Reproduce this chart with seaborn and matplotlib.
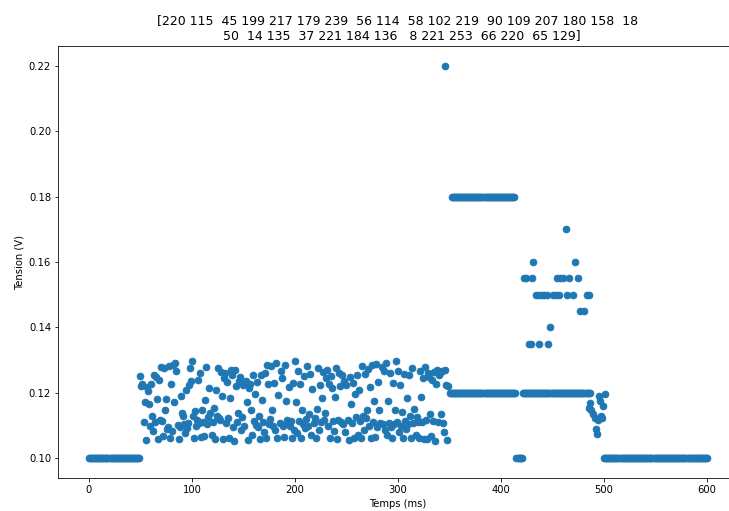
import numpy as np
import pandas as pd
import matplotlib
matplotlib.use("Agg")
import matplotlib.pyplot as plt
import seaborn as sns

# --- data ---
title_text = ("[220 115  45 199 217 179 239  56 114  58 102 219  90 109 207 180 158  18\n"
              "  50  14 135  37 221 184 136   8 221 253  66 220  65 129]")

# baseline before the burst (ms, V)
t_start = list(range(0, 50))
v_start = [0.10] * len(t_start)

# noisy burst, one sample per ms starting at 50 ms (values in 1e-4 V)
burst_t0 = 50
burst_e4 = [
    1252, 1222, 1228, 1110, 1172, 1055, 1218, 1205, 1165, 1098, 1228, 1128, 1085, 1255, 1112, 1248, 1182, 1060, 1240, 1118, 1280, 1115, 1068, 1275, 1148, 1182, 1090, 1095, 1282, 1062,
    1228, 1085, 1285, 1172, 1292, 1268, 1102, 1058, 1095, 1192, 1140, 1130, 1105, 1078, 1208, 1092, 1108, 1225, 1275, 1235, 1298, 1128, 1062, 1145, 1098, 1118, 1240, 1108, 1262, 1065,
    1148, 1112, 1068, 1178, 1280, 1105, 1125, 1215, 1138, 1070, 1112, 1155, 1058, 1208, 1128, 1275, 1122, 1118, 1265, 1190, 1058, 1245, 1262, 1108, 1232, 1122, 1062, 1185, 1270, 1255,
    1095, 1052, 1270, 1222, 1112, 1138, 1235, 1250, 1088, 1125, 1225, 1100, 1235, 1172, 1055, 1215, 1228, 1148, 1070, 1255, 1115, 1198, 1102, 1232, 1095, 1130, 1058, 1255, 1178, 1110,
    1082, 1260, 1062, 1285, 1228, 1105, 1120, 1282, 1148, 1098, 1230, 1088, 1290, 1062, 1195, 1108, 1268, 1245, 1100, 1065, 1285, 1175, 1118, 1105, 1218, 1098, 1115, 1062, 1230, 1088,
    1298, 1172, 1078, 1268, 1115, 1228, 1062, 1148, 1105, 1252, 1092, 1120, 1282, 1098, 1135, 1258, 1070, 1212, 1108, 1122, 1062, 1150, 1275, 1088, 1225, 1112, 1185, 1265, 1118, 1138,
    1245, 1270, 1100, 1228, 1062, 1252, 1215, 1115, 1085, 1188, 1275, 1058, 1118, 1262, 1222, 1112, 1255, 1105, 1235, 1080, 1225, 1118, 1055, 1248, 1165, 1108, 1230, 1062, 1198, 1125,
    1255, 1070, 1208, 1115, 1062, 1282, 1130, 1088, 1258, 1122, 1148, 1272, 1100, 1218, 1062, 1285, 1112, 1175, 1065, 1288, 1095, 1232, 1148, 1108, 1278, 1105, 1268, 1088, 1292, 1070,
    1175, 1108, 1262, 1095, 1062, 1230, 1105, 1148, 1298, 1112, 1268, 1082, 1225, 1098, 1142, 1062, 1258, 1115, 1090, 1185, 1105, 1255, 1128, 1062, 1275, 1108, 1150, 1070, 1125, 1110,
    1062, 1268, 1188, 1112, 1245, 1058, 1278, 1118, 1060, 1262, 1250, 1135, 1068, 1240, 1115, 1265, 1052, 1228, 1270, 1112, 1255, 1260, 1135, 1268, 1108, 1082, 1270, 1225, 1055, 1222,
]

# spike
t_spike = [346]
v_spike = [0.22]

# plateau at 0.18 V
t_high = list(range(352, 414))
v_high = [0.18] * len(t_high)

# plateau at 0.12 V (with a short dropout to 0.10 V)
t_mid = list(range(350, 415)) + list(range(421, 487))
v_mid = [0.12] * len(t_mid)
t_drop = list(range(415, 421))
v_drop = [0.10] * len(t_drop)

# scattered levels between 420 and 485 ms
t_lvl = [422, 424, 430, 454, 457, 460, 466, 475,
         431, 472, 463,
         434, 437, 440, 442, 445, 450, 453, 456, 464, 470, 483, 485,
         477, 481, 448, 427, 429, 437, 446]
v_lvl = [0.155, 0.155, 0.155, 0.155, 0.155, 0.155, 0.155, 0.155,
         0.16, 0.16, 0.17,
         0.15, 0.15, 0.15, 0.15, 0.15, 0.15, 0.15, 0.15, 0.15, 0.15, 0.15, 0.15,
         0.145, 0.145, 0.14, 0.135, 0.135, 0.135, 0.135]

# decay cluster
t_tail = [485, 486, 487, 489, 491, 494, 498, 499, 495, 501, 496, 492, 493, 497]
v_tail = [0.1155, 0.1168, 0.1149, 0.1136, 0.1124, 0.1117, 0.1124, 0.116, 0.119,
          0.1197, 0.1175, 0.109, 0.1074, 0.1128]

# baseline after the burst
t_end = list(range(500, 601))
v_end = [0.10] * len(t_end)

# --- assemble ---
t_burst = list(range(burst_t0, burst_t0 + len(burst_e4)))
v_burst = [v / 10000 for v in burst_e4]

times = t_start + t_burst + t_spike + t_high + t_mid + t_drop + t_lvl + t_tail + t_end
volts = v_start + v_burst + v_spike + v_high + v_mid + v_drop + v_lvl + v_tail + v_end
df = pd.DataFrame({"Temps (ms)": times, "Tension (V)": volts})

# --- plot ---
dpi = 72
fig = plt.figure(figsize=(729 / dpi, 511 / dpi), dpi=dpi)
ax = fig.add_axes([58 / 729, 1 - 478 / 511, (738 - 58) / 729, (478 - 46) / 511])

sns.scatterplot(data=df, x="Temps (ms)", y="Tension (V)", ax=ax,
                color="#1f77b4", edgecolor="#1f77b4", linewidth=1, s=44)

ax.set_xlim(-30, 630)
ax.set_ylim(0.094, 0.226)
ax.set_xticks([0, 100, 200, 300, 400, 500, 600])
ax.set_yticks([0.10, 0.12, 0.14, 0.16, 0.18, 0.20, 0.22])
ax.tick_params(labelsize=10)
ax.set_title(title_text, fontsize=12.5, pad=7)

fig.savefig("out.png", dpi=dpi)
